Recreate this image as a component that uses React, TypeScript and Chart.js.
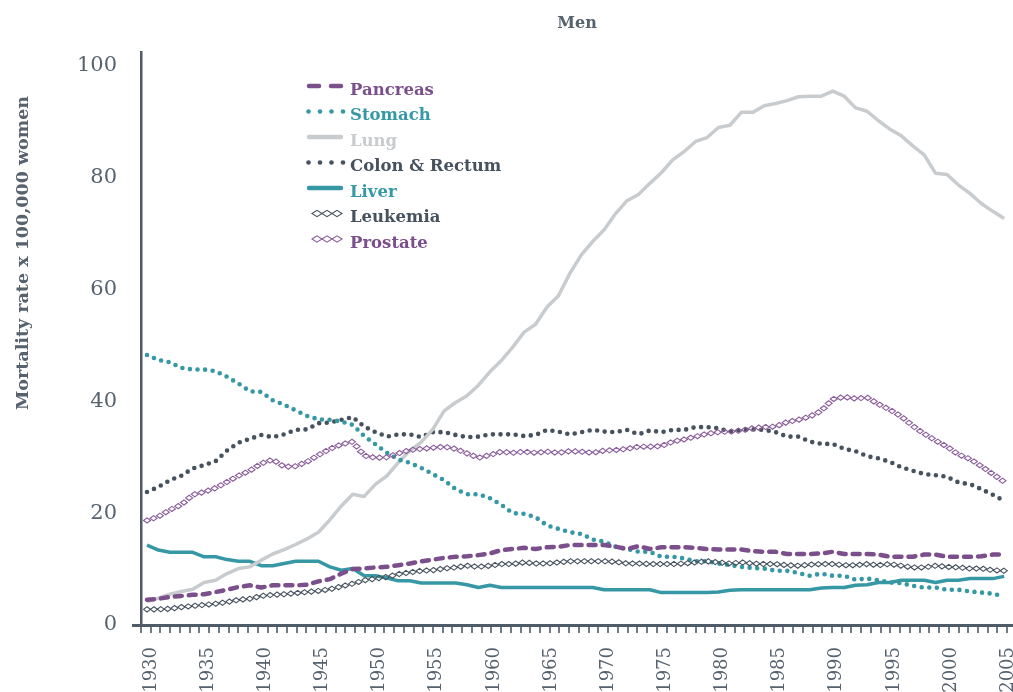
import React, { useEffect, useRef } from 'react';
import { Chart, registerables } from 'chart.js';

Chart.register(...registerables);

// ---------------- DATA ----------------
const years = [
  1930, 1931, 1932, 1933, 1934, 1935, 1936, 1937, 1938, 1939,
  1940, 1941, 1942, 1943, 1944, 1945, 1946, 1947, 1948, 1949,
  1950, 1951, 1952, 1953, 1954, 1955, 1956, 1957, 1958, 1959,
  1960, 1961, 1962, 1963, 1964, 1965, 1966, 1967, 1968, 1969,
  1970, 1971, 1972, 1973, 1974, 1975, 1976, 1977, 1978, 1979,
  1980, 1981, 1982, 1983, 1984, 1985, 1986, 1987, 1988, 1989,
  1990, 1991, 1992, 1993, 1994, 1995, 1996, 1997, 1998, 1999,
  2000, 2001, 2002, 2003, 2004, 2005,
];

const pancreas = [
  4.5, 4.7, 5.0, 5.2, 5.4, 5.5, 5.9, 6.3, 6.8, 7.1,
  6.7, 7.1, 7.1, 7.1, 7.2, 7.8, 8.2, 9.2, 10.0, 10.1,
  10.3, 10.4, 10.7, 11.0, 11.4, 11.7, 12.0, 12.2, 12.3, 12.5,
  12.8, 13.4, 13.6, 13.8, 13.6, 13.9, 14.0, 14.3, 14.3, 14.3,
  14.3, 14.0, 13.6, 14.1, 13.6, 13.9, 13.9, 13.9, 13.8, 13.6,
  13.5, 13.5, 13.5, 13.2, 13.1, 13.1, 12.7, 12.7, 12.7, 12.8,
  13.1, 12.7, 12.7, 12.7, 12.6, 12.2, 12.2, 12.2, 12.6, 12.6,
  12.2, 12.2, 12.2, 12.3, 12.6, 12.6,
];

const stomach = [
  48.3, 47.4, 47.0, 46.0, 45.7, 45.7, 45.4, 44.4, 43.2, 41.8,
  41.7, 40.2, 39.4, 38.4, 37.4, 36.8, 36.7, 36.4, 35.8, 33.8,
  32.3, 30.8, 29.6, 29.0, 28.1, 27.0, 25.9, 24.3, 23.4, 23.4,
  22.7, 21.5, 20.0, 19.9, 19.3, 17.8, 17.2, 16.6, 16.3, 15.3,
  14.9, 14.0, 13.6, 13.1, 13.1, 12.2, 12.2, 11.9, 11.4, 11.4,
  11.0, 10.7, 10.4, 10.2, 10.1, 9.7, 9.7, 9.3, 8.8, 9.2,
  8.8, 8.8, 8.1, 8.3, 8.0, 7.6, 7.5, 7.0, 6.7, 6.7,
  6.3, 6.3, 6.0, 5.8, 5.6, 5.1,
];

const lung = [
  4.2, 4.8, 5.5, 6.0, 6.4, 7.6, 8.0, 9.2, 10.1, 10.4,
  11.6, 12.7, 13.5, 14.4, 15.4, 16.6, 18.8, 21.3, 23.4, 23.0,
  25.2, 26.7, 29.1, 31.2, 32.7, 35.0, 38.3, 39.8, 41.0, 42.9,
  45.3, 47.3, 49.7, 52.4, 53.8, 56.9, 58.9, 62.9, 66.2, 68.6,
  70.7, 73.6, 75.9, 77.0, 79.0, 80.9, 83.2, 84.7, 86.5, 87.2,
  89.0, 89.4, 91.7, 91.7, 92.9, 93.3, 93.8, 94.5, 94.6, 94.6,
  95.5, 94.6, 92.5, 91.9, 90.2, 88.7, 87.5, 85.7, 84.1, 80.8,
  80.6, 78.7, 77.2, 75.4, 74.0, 72.7,
];

const colonRectum = [
  23.8, 24.7, 25.9, 26.7, 28.0, 28.6, 29.3, 31.2, 32.6, 33.3,
  34.0, 33.6, 34.1, 34.9, 35.0, 36.1, 36.2, 36.7, 37.2, 35.5,
  34.5, 33.7, 34.1, 34.1, 33.6, 34.5, 34.5, 34.0, 33.6, 33.7,
  34.1, 34.1, 34.1, 33.8, 34.0, 34.9, 34.6, 34.1, 34.5, 34.9,
  34.6, 34.5, 34.9, 34.1, 34.8, 34.5, 34.9, 34.9, 35.4, 35.4,
  35.2, 34.6, 34.9, 35.0, 34.9, 34.5, 33.7, 33.7, 32.8, 32.4,
  32.4, 31.5, 31.1, 30.2, 29.8, 29.2, 28.2, 27.6, 27.0, 26.8,
  26.5, 25.5, 25.2, 24.3, 23.3, 22.2,
];

const liver = [
  14.3, 13.4, 13.0, 13.0, 13.0, 12.2, 12.2, 11.7, 11.4, 11.4,
  10.6, 10.6, 11.0, 11.4, 11.4, 11.4, 10.4, 9.8, 10.1, 8.8,
  8.8, 8.4, 7.9, 7.9, 7.5, 7.5, 7.5, 7.5, 7.2, 6.7,
  7.1, 6.7, 6.7, 6.7, 6.7, 6.7, 6.7, 6.7, 6.7, 6.7,
  6.3, 6.3, 6.3, 6.3, 6.3, 5.8, 5.8, 5.8, 5.8, 5.8,
  5.9, 6.2, 6.3, 6.3, 6.3, 6.3, 6.3, 6.3, 6.3, 6.6,
  6.7, 6.7, 7.1, 7.2, 7.6, 7.6, 8.0, 8.0, 8.0, 7.6,
  8.0, 8.0, 8.3, 8.3, 8.3, 8.7,
];

const leukemia = [
  2.8, 2.8, 2.9, 3.2, 3.4, 3.6, 3.8, 4.1, 4.5, 4.7,
  5.2, 5.4, 5.5, 5.7, 5.9, 6.1, 6.4, 6.9, 7.4, 8.0,
  8.3, 8.6, 9.1, 9.4, 9.7, 9.8, 10.1, 10.3, 10.6, 10.4,
  10.6, 10.9, 10.9, 11.2, 11.0, 11.0, 11.2, 11.4, 11.4, 11.4,
  11.4, 11.3, 11.0, 11.0, 10.9, 10.9, 10.9, 11.0, 11.2, 11.4,
  11.2, 11.0, 11.2, 11.0, 10.9, 10.9, 10.7, 10.6, 10.8, 10.9,
  10.9, 10.7, 10.7, 10.9, 10.7, 10.9, 10.6, 10.3, 10.3, 10.6,
  10.4, 10.3, 10.1, 10.1, 9.8, 9.7,
];

const prostate = [
  18.7, 19.4, 20.6, 21.5, 23.3, 23.8, 24.5, 25.6, 26.7, 27.6,
  28.9, 29.6, 28.3, 28.4, 29.2, 30.4, 31.5, 32.3, 32.8, 30.3,
  29.9, 30.0, 30.7, 31.3, 31.5, 31.7, 31.9, 31.5, 30.7, 29.9,
  30.4, 31.0, 30.8, 31.0, 30.8, 31.0, 30.8, 31.1, 31.0, 30.8,
  31.2, 31.3, 31.5, 31.9, 31.9, 32.0, 32.8, 33.2, 33.7, 34.2,
  34.5, 34.6, 34.8, 35.2, 35.4, 35.5, 36.3, 36.7, 37.3, 38.3,
  40.4, 40.8, 40.5, 40.7, 39.5, 38.5, 37.3, 35.6, 34.2, 33.0,
  31.9, 30.5, 29.7, 28.4, 27.0, 25.6,
];

const seriesNames = ['Pancreas', 'Stomach', 'Lung', 'Colon & Rectum', 'Liver', 'Leukemia', 'Prostate'];
const xTickYears = [1930, 1935, 1940, 1945, 1950, 1955, 1960, 1965, 1970, 1975, 1980, 1985, 1990, 1995, 2000, 2005];
const yTickValues = [0, 20, 40, 60, 80, 100];
const chartTitle = 'Men';
const yAxisTitle = 'Mortality rate x 100,000 women';

// ---------------- STYLE ----------------
const PURPLE = '#7b4f8c';
const PROSTATE = '#8a5c9a';
const TEAL = '#3598a4';
const LUNG = '#c8cccf';
const DARK = '#46525e';
const AXIS = '#4f5b67';
const TICK = '#6f7b86';
const TEXT = '#56626e';
const SERIF = '"DejaVu Serif", serif';

const toXY = (vals: number[]) => vals.map((v, i) => ({ x: years[i], y: v }));

const base = {
  fill: false,
  tension: 0,
  pointRadius: 0,
  pointHoverRadius: 0,
  borderJoinStyle: 'round' as const,
};

const diamondPlugin = {
  id: 'diamondChain',
  afterDatasetsDraw(chart: any) {
    const ctx = chart.ctx;
    const a = chart.chartArea;
    ctx.save();
    ctx.beginPath();
    ctx.rect(a.left, a.top, a.right - a.left, a.bottom - a.top);
    ctx.clip();
    chart.data.datasets.forEach((ds: any, i: number) => {
      if (!ds.diamondColor) return;
      const meta = chart.getDatasetMeta(i);
      const pts = meta.data.map((p: any) => ({ x: p.x, y: p.y }));
      const step = 6.9;
      const hw = 3.5;
      const hh = 2.6;
      ctx.strokeStyle = ds.diamondColor;
      ctx.lineWidth = 1.1;
      let carry = 0;
      for (let j = 0; j < pts.length - 1; j++) {
        const p0 = pts[j];
        const p1 = pts[j + 1];
        const len = Math.hypot(p1.x - p0.x, p1.y - p0.y);
        let s = carry;
        while (s <= len) {
          const t = len === 0 ? 0 : s / len;
          const x = p0.x + (p1.x - p0.x) * t;
          const y = p0.y + (p1.y - p0.y) * t;
          ctx.beginPath();
          ctx.moveTo(x - hw, y);
          ctx.lineTo(x, y - hh);
          ctx.lineTo(x + hw, y);
          ctx.lineTo(x, y + hh);
          ctx.closePath();
          ctx.stroke();
          s += step;
        }
        carry = s - len;
      }
    });
    ctx.restore();
  },
};

const decorPlugin = {
  id: 'decor',
  afterDraw(chart: any) {
    const ctx = chart.ctx;
    const a = chart.chartArea;
    ctx.save();
    // title
    ctx.fillStyle = TEXT;
    ctx.font = `bold 16px ${SERIF}`;
    ctx.textAlign = 'center';
    ctx.textBaseline = 'alphabetic';
    ctx.fillText(chartTitle, (a.left + a.right) / 2, 28);
    // y title
    ctx.save();
    ctx.translate(28, 253);
    ctx.rotate(-Math.PI / 2);
    ctx.font = `bold 17.5px ${SERIF}`;
    ctx.fillText(yAxisTitle, 0, 0);
    ctx.restore();

    // x tick labels (rotated, through the x scale)
    const xs = chart.scales.x;
    ctx.save();
    ctx.font = `18px ${SERIF}`;
    ctx.fillStyle = TEXT;
    ctx.textAlign = 'right';
    ctx.textBaseline = 'middle';
    xTickYears.forEach((yr) => {
      const px = xs.getPixelForValue(yr);
      ctx.save();
      ctx.translate(px + 4, 647);
      ctx.rotate(-Math.PI / 2);
      ctx.fillText(String(yr), 0, 0);
      ctx.restore();
    });
    ctx.restore();

    // legend
    const colors = [PURPLE, TEAL, LUNG, DARK, TEAL, DARK, PURPLE];
    ctx.textAlign = 'left';
    ctx.textBaseline = 'alphabetic';
    ctx.font = `bold 16.5px ${SERIF}`;
    seriesNames.forEach((name, i) => {
      const y = 86 + 25.5 * i;
      const c = colors[i];
      ctx.strokeStyle = c;
      ctx.fillStyle = c;
      ctx.lineCap = 'round';
      if (i === 0) {
        ctx.lineWidth = 4.5;
        ctx.beginPath();
        ctx.moveTo(309, y); ctx.lineTo(319, y);
        ctx.moveTo(331, y); ctx.lineTo(341, y);
        ctx.stroke();
      } else if (i === 1 || i === 3) {
        [308.5, 320, 331.5, 343].forEach((x) => {
          ctx.beginPath();
          ctx.arc(x, y, 2.3, 0, Math.PI * 2);
          ctx.fill();
        });
      } else if (i === 2 || i === 4) {
        ctx.lineWidth = 4.5;
        ctx.beginPath();
        ctx.moveTo(309, y); ctx.lineTo(341, y);
        ctx.stroke();
      } else {
        ctx.strokeStyle = i === 6 ? PROSTATE : DARK;
        ctx.lineWidth = 1.1;
        [317, 327, 337].forEach((x) => {
          ctx.beginPath();
          ctx.moveTo(x - 5, y);
          ctx.lineTo(x, y - 3.2);
          ctx.lineTo(x + 5, y);
          ctx.lineTo(x, y + 3.2);
          ctx.closePath();
          ctx.stroke();
        });
      }
      ctx.fillStyle = c;
      ctx.fillText(name, 350, y + 8.8);
    });
    ctx.restore();
  },
};

export default function App() {
  const ref = useRef<HTMLCanvasElement>(null);
  useEffect(() => {
    const chart = new Chart(ref.current as HTMLCanvasElement, {
      type: 'line',
      data: {
        datasets: [
          {
            ...base,
            label: seriesNames[0],
            data: toXY(pancreas),
            borderColor: PURPLE,
            borderWidth: 4.5,
            borderDash: [7, 7],
            borderCapStyle: 'round',
          },
          {
            ...base,
            label: seriesNames[1],
            data: toXY(stomach),
            borderColor: TEAL,
            borderWidth: 4.6,
            borderDash: [0, 7.6],
            borderCapStyle: 'round',
          },
          {
            ...base,
            label: seriesNames[2],
            data: toXY(lung),
            borderColor: LUNG,
            borderWidth: 3.5,
          },
          {
            ...base,
            label: seriesNames[3],
            data: toXY(colonRectum),
            borderColor: DARK,
            borderWidth: 4.6,
            borderDash: [0, 7.6],
            borderCapStyle: 'round',
          },
          {
            ...base,
            label: seriesNames[4],
            data: toXY(liver),
            borderColor: TEAL,
            borderWidth: 3.5,
          },
          {
            ...base,
            label: seriesNames[5],
            data: toXY(leukemia),
            showLine: false,
            borderWidth: 0,
            borderColor: DARK,
            diamondColor: DARK,
          } as any,
          {
            ...base,
            label: seriesNames[6],
            data: toXY(prostate),
            showLine: false,
            borderWidth: 0,
            borderColor: PROSTATE,
            diamondColor: PROSTATE,
          } as any,
        ],
      },
      options: {
        animation: false,
        responsive: false,
        maintainAspectRatio: false,
        devicePixelRatio: 1,
        events: [],
        layout: { padding: { left: 0, top: 52, right: 17, bottom: 0 } },
        plugins: {
          legend: { display: false },
          title: { display: false },
          tooltip: { enabled: false },
        },
        scales: {
          x: {
            type: 'linear',
            position: 'bottom',
            weight: 1,
            min: 1929.475,
            max: 2005.77,
            afterBuildTicks: (s: any) => {
              s.ticks = xTickYears.map((v) => ({ value: v }));
            },
            afterFit: (s: any) => {
              s.height = 67;
            },
            grid: { display: false },
            border: { display: false },
            ticks: { display: false },
          },
          xt: {
            type: 'linear',
            position: 'bottom',
            weight: 0,
            min: 0,
            max: 89.6,
            afterBuildTicks: (s: any) => {
              const arr: any[] = [];
              for (let k = 0; k <= 89; k++) arr.push({ value: k });
              s.ticks = arr;
            },
            afterFit: (s: any) => {
              s.height = 8;
            },
            grid: {
              display: true,
              drawOnChartArea: false,
              drawTicks: true,
              tickLength: 8,
              color: TICK,
              lineWidth: 2,
            },
            border: { display: true, color: AXIS, width: 3 },
            ticks: { display: false, autoSkip: false },
          },
          y: {
            type: 'linear',
            min: 0,
            max: 102.5,
            afterBuildTicks: (s: any) => {
              s.ticks = yTickValues.map((v) => ({ value: v }));
            },
            afterFit: (s: any) => {
              s.width = 141;
            },
            grid: {
              drawOnChartArea: false,
              drawTicks: true,
              tickLength: 9,
              lineWidth: 3,
              color: (c: any) => (c.tick && c.tick.value === 0 ? AXIS : 'rgba(0,0,0,0)'),
            },
            border: { display: true, color: AXIS, width: 2.5 },
            ticks: {
              padding: 15,
              color: TEXT,
              font: { family: SERIF, size: 21 },
            },
          },
        } as any,
      },
      plugins: [diamondPlugin, decorPlugin],
    });
    return () => chart.destroy();
  }, []);

  return (
    <div
      style={{
        position: 'fixed',
        left: 0,
        top: 0,
        width: 1013,
        height: 692,
        overflow: 'hidden',
        background: '#ffffff',
      }}
    >
      <canvas
        ref={ref}
        width={1030}
        height={700}
        style={{ display: 'block', width: 1030, height: 700 }}
      />
    </div>
  );
}
